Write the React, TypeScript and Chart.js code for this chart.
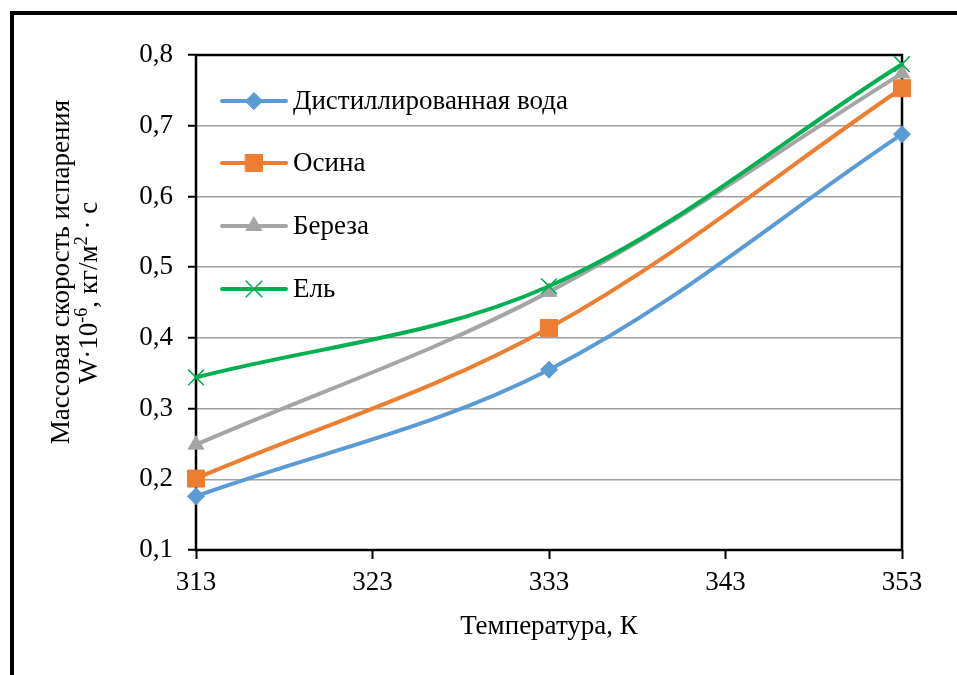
import React, { useEffect, useRef } from 'react';
import { Chart, registerables } from 'chart.js';
import { drawPoint } from 'chart.js/helpers';

Chart.register(...registerables);

// ---- data ----
const temperatures = [313, 333, 353];
const waterValues = [0.176, 0.355, 0.688];
const aspenValues = [0.201, 0.414, 0.753];
const birchValues = [0.249, 0.465, 0.774];
const spruceValues = [0.344, 0.473, 0.787];
const seriesNames = ['Дистиллированная вода', 'Осина', 'Береза', 'Ель'];
const xTickValues = [313, 323, 333, 343, 353];
const yTickValues = [0.1, 0.2, 0.3, 0.4, 0.5, 0.6, 0.7, 0.8];
const xTitle = 'Температура, К';
const yTitleLine1 = 'Массовая скорость испарения';
// second line: [text, isSuperscript]
const yTitleLine2: [string, boolean][] = [
  ['W·10', false],
  ['-6', true],
  [', кг/м', false],
  ['2', true],
  [' · с', false],
];

const FONT = "'Liberation Serif', 'Times New Roman', serif";
const FS = 27;
const COLORS = ['#5B9BD5', '#ED7D31', '#A5A5A5', '#00B050'];
const STYLES = ['rectRot', 'rect', 'triangle', 'crossRot'];
const RADII = [8.5, 12, 9, 11];
const BORDERW = [1, 1, 1, 1.6];
const ORDER = [3, 2, 1, 0];

const framePlugin = {
  id: 'frame',
  beforeDraw(chart: any) {
    const ctx = chart.ctx;
    ctx.save();
    ctx.fillStyle = '#fff';
    ctx.fillRect(0, 0, chart.width, chart.height);
    ctx.fillStyle = '#000';
    ctx.fillRect(10, 11, chart.width - 10, 4);
    ctx.fillRect(10, 11, 4, chart.height - 11);
    ctx.restore();
  },
  beforeDatasetsDraw(chart: any) {
    const ctx = chart.ctx;
    const { left, top, right, bottom } = chart.chartArea;
    ctx.save();
    ctx.strokeStyle = '#000';
    ctx.lineWidth = 2.5;
    ctx.strokeRect(left, top, right - left, bottom - top);
    ctx.restore();
  },
};

const yTitlePlugin = {
  id: 'yTitle',
  afterDraw(chart: any) {
    const ctx = chart.ctx;
    ctx.save();
    ctx.fillStyle = '#000';
    ctx.textBaseline = 'middle';
    // line 1
    ctx.save();
    ctx.translate(62, 272);
    ctx.rotate(-Math.PI / 2);
    ctx.font = `${FS}px ${FONT}`;
    ctx.textAlign = 'center';
    ctx.fillText(yTitleLine1, 0, 0);
    ctx.restore();
    // line 2 with superscripts
    ctx.save();
    ctx.translate(90, 293);
    ctx.rotate(-Math.PI / 2);
    ctx.textAlign = 'left';
    const normal = `${FS}px ${FONT}`;
    const sup = `18px ${FONT}`;
    let total = 0;
    yTitleLine2.forEach(([t, s]) => {
      ctx.font = s ? sup : normal;
      total += ctx.measureText(t).width;
    });
    let x = -total / 2;
    yTitleLine2.forEach(([t, s]) => {
      ctx.font = s ? sup : normal;
      ctx.fillText(t, x, s ? -8 : 0);
      x += ctx.measureText(t).width;
    });
    ctx.restore();
    ctx.restore();
  },
};

const legendPlugin = {
  id: 'insideLegend',
  afterDatasetsDraw(chart: any) {
    const ctx = chart.ctx;
    const rows = [101, 163, 226, 289];
    chart.data.datasets.forEach((ds: any, i: number) => {
      const y = rows[i];
      ctx.save();
      ctx.strokeStyle = ds.borderColor;
      ctx.lineWidth = 4;
      ctx.lineCap = 'round';
      ctx.beginPath();
      ctx.moveTo(222, y);
      ctx.lineTo(286, y);
      ctx.stroke();
      ctx.fillStyle = ds.pointBackgroundColor;
      ctx.strokeStyle = ds.pointBorderColor;
      ctx.lineWidth = ds.pointBorderWidth;
      drawPoint(
        ctx,
        { pointStyle: ds.pointStyle, radius: ds.pointRadius, rotation: 0, borderWidth: ds.pointBorderWidth },
        254,
        y
      );
      ctx.fillStyle = '#000';
      ctx.font = `${FS}px ${FONT}`;
      ctx.textBaseline = 'middle';
      ctx.textAlign = 'left';
      ctx.fillText(ds.label, 293, y + 1);
      ctx.restore();
    });
  },
};

export default function App() {
  const canvasRef = useRef<HTMLCanvasElement | null>(null);

  useEffect(() => {
    const canvas = canvasRef.current;
    if (!canvas) return;
    const seriesValues = [waterValues, aspenValues, birchValues, spruceValues];
    const datasets = seriesValues.map((vals, i) => ({
      label: seriesNames[i],
      data: temperatures.map((t, j) => ({ x: t, y: vals[j] })),
      borderColor: COLORS[i],
      backgroundColor: COLORS[i],
      pointBackgroundColor: COLORS[i],
      pointBorderColor: COLORS[i],
      pointBorderWidth: BORDERW[i],
      pointStyle: STYLES[i],
      pointRadius: RADII[i],
      borderWidth: 4,
      borderCapStyle: 'round',
      tension: 0.35,
      clip: false,
      order: ORDER[i],
    }));

    const chart = new Chart(canvas, {
      type: 'line',
      data: { datasets },
      plugins: [framePlugin, yTitlePlugin, legendPlugin],
      options: {
        animation: false,
        responsive: false,
        devicePixelRatio: 1,
        layout: { padding: { left: 0, top: 55, right: 55, bottom: 35 } },
        plugins: { legend: { display: false }, tooltip: { enabled: false } },
        scales: {
          x: {
            type: 'linear',
            min: xTickValues[0],
            max: xTickValues[xTickValues.length - 1],
            afterBuildTicks(scale: any) {
              scale.ticks = xTickValues.map((v) => ({ value: v }));
            },
            afterFit(scale: any) {
              scale.height = 90;
            },
            grid: {
              drawOnChartArea: false,
              drawTicks: true,
              tickLength: 9,
              tickWidth: 2,
              tickColor: '#000',
            },
            border: { display: false },
            ticks: {
              color: '#000',
              padding: 8,
              font: { family: FONT, size: FS },
              callback: (v: any) => String(v),
            },
            title: {
              display: true,
              text: xTitle,
              color: '#000',
              font: { family: FONT, size: FS, lineHeight: 1 },
              padding: { top: 0, bottom: 0 },
            },
          },
          y: {
            type: 'linear',
            min: yTickValues[0],
            max: yTickValues[yTickValues.length - 1],
            afterBuildTicks(scale: any) {
              scale.ticks = yTickValues.map((v) => ({ value: v }));
            },
            afterFit(scale: any) {
              scale.width = 196;
            },
            grid: {
              color: '#A0A0A0',
              lineWidth: 1.5,
              drawTicks: true,
              tickLength: 8,
              tickWidth: 2,
              tickColor: '#000',
            },
            border: { display: false },
            ticks: {
              color: '#000',
              padding: 15,
              font: { family: FONT, size: FS },
              callback: (v: any) => Number(v).toFixed(1).replace('.', ','),
            },
          },
        },
      },
    } as any);

    return () => chart.destroy();
  }, []);

  return (
    <div style={{ position: 'fixed', left: 0, top: 0, width: 957, height: 675, background: '#fff' }}>
      <canvas ref={canvasRef} width={957} height={675} style={{ display: 'block', width: 957, height: 675 }} />
    </div>
  );
}
